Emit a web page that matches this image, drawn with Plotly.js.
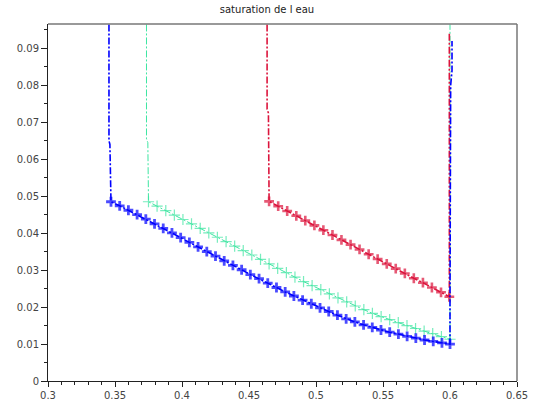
<!DOCTYPE html>
<html>
<head>
<meta charset="utf-8">
<script src="https://cdn.plot.ly/plotly-3.0.1.min.js"></script>
<style>html,body{margin:0;padding:0;background:#fff;}#chart{width:534px;height:405px;}</style>
</head>
<body>
<div id="chart"></div>
<script>
// Blue series (vertical front + profile)
const blueX = [0.3455, 0.3455, 0.3462, 0.347, 0.3535, 0.360, 0.3665, 0.373, 0.3795, 0.386, 0.3925, 0.399, 0.4055, 0.412, 0.4185, 0.425, 0.4315, 0.438, 0.4445, 0.451, 0.4575, 0.464, 0.4705, 0.477, 0.4835, 0.490, 0.4965, 0.503, 0.5095, 0.516, 0.5225, 0.529, 0.5355, 0.542, 0.5485, 0.555, 0.5615, 0.568, 0.5745, 0.581, 0.5875, 0.594, 0.600, 0.600, 0.6005, 0.6015, 0.6015];
const blueY = [0.1000, 0.0650, 0.0640, 0.0485, 0.0474, 0.0462, 0.0450, 0.0438, 0.0425, 0.0413, 0.0401, 0.0388, 0.0375, 0.0363, 0.0350, 0.0338, 0.0325, 0.0313, 0.0301, 0.0288, 0.0277, 0.0265, 0.0253, 0.0241, 0.0230, 0.0219, 0.0209, 0.0198, 0.0188, 0.0178, 0.0168, 0.0160, 0.0152, 0.0145, 0.0138, 0.0132, 0.0127, 0.0121, 0.0116, 0.0111, 0.0107, 0.0103, 0.0100, 0.0220, 0.0800, 0.0840, 0.0920];
// Green series
const greenX = [0.3735, 0.3735, 0.3745, 0.375, 0.3814, 0.3879, 0.3943, 0.4007, 0.4071, 0.4136, 0.4200, 0.4264, 0.4329, 0.4393, 0.4457, 0.4521, 0.4586, 0.4650, 0.4714, 0.4779, 0.4843, 0.4907, 0.4971, 0.5036, 0.5100, 0.5164, 0.5229, 0.5293, 0.5357, 0.5421, 0.5486, 0.5550, 0.5614, 0.5679, 0.5743, 0.5807, 0.5871, 0.5936, 0.600, 0.600];
const greenY = [0.1000, 0.0655, 0.0645, 0.0485, 0.0473, 0.0461, 0.0449, 0.0437, 0.0425, 0.0413, 0.0401, 0.0389, 0.0377, 0.0365, 0.0353, 0.0341, 0.0329, 0.0317, 0.0305, 0.0293, 0.0281, 0.0269, 0.0258, 0.0247, 0.0236, 0.0225, 0.0214, 0.0203, 0.0193, 0.0183, 0.0174, 0.0166, 0.0158, 0.0150, 0.0142, 0.0135, 0.0128, 0.0120, 0.0113, 0.0965];
// Red series
const redX = [0.4635, 0.4635, 0.4645, 0.465, 0.4718, 0.4785, 0.4853, 0.492, 0.4988, 0.5055, 0.5123, 0.519, 0.5258, 0.5325, 0.5393, 0.546, 0.5528, 0.5595, 0.5663, 0.573, 0.5798, 0.5865, 0.5933, 0.5995, 0.5995];
const redY = [0.1000, 0.0735, 0.0725, 0.0486, 0.0473, 0.0460, 0.0447, 0.0434, 0.0421, 0.0408, 0.0395, 0.0382, 0.0369, 0.0356, 0.0343, 0.0330, 0.0317, 0.0304, 0.0291, 0.0278, 0.0266, 0.0253, 0.0240, 0.0228, 0.0940];

const xTicks = [0.3, 0.35, 0.4, 0.45, 0.5, 0.55, 0.6, 0.65];
const xTickText = ['0.3', '0.35', '0.4', '0.45', '0.5', '0.55', '0.6', '0.65'];
const yTicks = [0, 0.01, 0.02, 0.03, 0.04, 0.05, 0.06, 0.07, 0.08, 0.09];
const yTickText = ['0', '0.01', '0.02', '0.03', '0.04', '0.05', '0.06', '0.07', '0.08', '0.09'];

function sizes(n, s) {
  // no marker on the vertical front segments
  return Array.from({length: n}, (_, i) => (i < 3 ? 0 : s));
}
function sizesEnd(n, s, tail) {
  return Array.from({length: n}, (_, i) => (i < 3 || i >= n - tail ? 0 : s));
}

const dash = '7px,2px,2px,2px';
const traces = [
  {x: greenX, y: greenY, mode: 'lines+markers', line: {color: '#3ee6a2', width: 1, dash: dash},
   marker: {symbol: 'cross-thin', size: sizesEnd(greenX.length, 8, 1), line: {color: '#3ee6a2', width: 1.2}}},
  {x: redX, y: redY, mode: 'lines+markers', line: {color: '#dc143c', width: 1.6, dash: dash},
   marker: {symbol: 'cross-thin', size: sizesEnd(redX.length, 7, 1), line: {color: '#dc143c', width: 2.6}}},
  {x: blueX, y: blueY, mode: 'lines+markers', line: {color: '#0000ff', width: 1.6, dash: dash},
   marker: {symbol: 'cross-thin', size: sizesEnd(blueX.length, 7, 4), line: {color: '#0000ff', width: 2.8}}}
];

const layout = {
  width: 534, height: 405,
  margin: {l: 48, r: 17, t: 24, b: 24, pad: 0},
  paper_bgcolor: '#fff', plot_bgcolor: '#fff',
  showlegend: false,
  title: {text: 'saturation de l eau', font: {family: 'DejaVu Sans, sans-serif', size: 10, color: '#222'},
          x: 0.5, xref: 'container', y: 0.985, yref: 'container', yanchor: 'top'},
  xaxis: {range: [0.3, 0.65], tickvals: xTicks, ticktext: xTickText, ticks: 'outside', ticklen: 5,
          tickcolor: '#222', showgrid: false, zeroline: false, showline: true, linecolor: '#222', linewidth: 1,
          tickfont: {family: 'DejaVu Sans, sans-serif', size: 10, color: '#444'},
          minor: {dtick: 0.01, ticks: 'outside', ticklen: 3, tickcolor: '#222', showgrid: false}},
  yaxis: {range: [0, 0.0966], tickvals: yTicks, ticktext: yTickText, ticks: 'outside', ticklen: 6,
          tickcolor: '#222', showgrid: false, zeroline: false, showline: true, linecolor: '#222', linewidth: 1,
          tickfont: {family: 'DejaVu Sans, sans-serif', size: 10, color: '#444'},
          minor: {dtick: 0.005, ticks: 'outside', ticklen: 3, tickcolor: '#222', showgrid: false}},
  shapes: [
    {type: 'line', xref: 'paper', yref: 'paper', x0: 0, x1: 1, y0: 1, y1: 1, line: {color: '#777', width: 1.5}},
    {type: 'line', xref: 'paper', yref: 'paper', x0: 1, x1: 1, y0: 0, y1: 1, line: {color: '#777', width: 1.5}}
  ]
};

Plotly.newPlot('chart', traces, layout, {displayModeBar: false, staticPlot: true});
</script>
</body>
</html>
